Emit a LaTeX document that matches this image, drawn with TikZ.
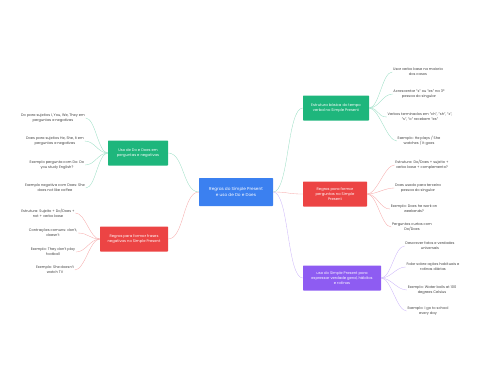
\documentclass[tikz,border=0pt]{standalone}
\usepackage{fontspec}
\setmainfont{Poppins}
\definecolor{hubblue}{RGB}{59,128,240}
\definecolor{mintgreen}{RGB}{30,182,124}
\definecolor{coralred}{RGB}{236,68,68}
\definecolor{violet}{RGB}{142,92,242}
\usetikzlibrary{positioning}

\begin{document}
\begin{tikzpicture}[
  x=0.5mm, y=-0.5mm,
  hub/.style={rectangle, rounded corners=1pt, fill=hubblue, text=white, align=center,
    font=\fontsize{6}{8}\selectfont, minimum width=37mm, minimum height=14mm},
  branch/.style={rectangle, rounded corners=1pt, text=white, align=center,
    font=\fontsize{5.3}{7.6}\selectfont, minimum height=12.5mm, inner sep=2pt},
  leaf/.style={align=center, font=\fontsize{5.1}{7.4}\selectfont, text=black!75, inner sep=1pt},
  greenlink/.style={draw=mintgreen!45, line width=0.5pt},
  redlink/.style={draw=coralred!45, line width=0.5pt},
  violetlink/.style={draw=violet!45, line width=0.5pt},
]
\useasboundingbox (0,0) rectangle (480,384);

% central topic
\node[hub] (hub) at (236,192) {Regras do Simple Present\\e uso de Do e Does};

% branches
\node[branch, fill=mintgreen, minimum width=33mm] (basic) at (336,108) {Estrutura básica do tempo\\verbal no Simple Present};
\node[branch, fill=coralred, minimum width=32mm] (quest) at (335,194) {Regras para formar\\perguntas no Simple\\Present};
\node[branch, fill=violet, minimum width=39mm] (usage) at (342,278) {uso do Simple Present para\\expressar verdade geral, hábitos\\e rotinas};
\node[branch, fill=mintgreen, minimum width=30mm] (dodoes) at (138,153) {Uso de Do e Does em\\perguntas e negativas};
\node[branch, fill=coralred, minimum width=34mm] (neg) at (134,239) {Regras para formar frases\\negativas no Simple Present};

% leaves: basic structure
\node[leaf] (basic1) at (418,72) {Usar verbo base na maioria\\dos casos};
\node[leaf] (basic2) at (419,94) {Acrescentar "s" ou "es" na 3ª\\pessoa do singular};
\node[leaf] (basic3) at (420,117) {Verbos terminados em "ch", "sh", "x",\\"s", "o" recebem "es"};
\node[leaf] (basic4) at (419,141) {Exemplo: He plays / She\\watches / It goes};

% leaves: questions
\node[leaf] (quest1) at (422,165) {Estrutura: Do/Does + sujeito +\\verbo base + complemento?};
\node[leaf] (quest2) at (418,188) {Does usado para terceira\\pessoa do singular};
\node[leaf] (quest3) at (414,209) {Exemplo: Does he work on\\weekends?};
\node[leaf] (quest4) at (412,227) {Perguntas curtas com\\Do/Does};

% leaves: usage
\node[leaf] (usage1) at (430,246) {Descrever fatos e verdades\\universais};
\node[leaf] (usage2) at (433,267) {Falar sobre ações habituais e\\rotinas diárias};
\node[leaf] (usage3) at (432,290) {Exemplo: Water boils at 100\\degrees Celsius};
\node[leaf] (usage4) at (428,311) {Exemplo: I go to school\\every day};

% leaves: do / does
\node[leaf] (dodoes1) at (53,118) {Do para sujeitos I, You, We, They em\\perguntas e negativas};
\node[leaf] (dodoes2) at (55,141) {Does para sujeitos He, She, It em\\perguntas e negativas};
\node[leaf] (dodoes3) at (57,165) {Exemplo pergunta com Do: Do\\you study English?};
\node[leaf] (dodoes4) at (55,188) {Exemplo negativa com Does: She\\does not like coffee};

% leaves: negatives
\node[leaf] (neg1) at (48,213) {Estrutura: Sujeito + Do/Does +\\not + verbo base};
\node[leaf] (neg2) at (53,233) {Contrações comuns: don't,\\doesn't};
\node[leaf] (neg3) at (53,252) {Exemplo: They don't play\\football};
\node[leaf] (neg4) at (55,270) {Exemplo: She doesn't\\watch TV};

% hub links
\draw[greenlink] (hub.east) .. controls +(16,0) and +(-16,0) .. (basic.west);
\draw[redlink] (hub.east) .. controls +(16,0) and +(-16,0) .. (quest.west);
\draw[violetlink] (hub.east) .. controls +(16,0) and +(-16,0) .. (usage.west);
\draw[greenlink] (hub.west) .. controls +(-16,0) and +(16,0) .. (dodoes.east);
\draw[redlink] (hub.west) .. controls +(-16,0) and +(16,0) .. (neg.east);

% leaf links
\foreach \i in {1,...,4} {
  \draw[greenlink] (basic.east) .. controls +(10,0) and +(-10,0) .. (basic\i.west);
  \draw[redlink] (quest.east) .. controls +(10,0) and +(-10,0) .. (quest\i.west);
  \draw[violetlink] (usage.east) .. controls +(10,0) and +(-10,0) .. (usage\i.west);
  \draw[greenlink] (dodoes.west) .. controls +(-10,0) and +(10,0) .. (dodoes\i.east);
  \draw[redlink] (neg.west) .. controls +(-10,0) and +(10,0) .. (neg\i.east);
}
\end{tikzpicture}
\end{document}
